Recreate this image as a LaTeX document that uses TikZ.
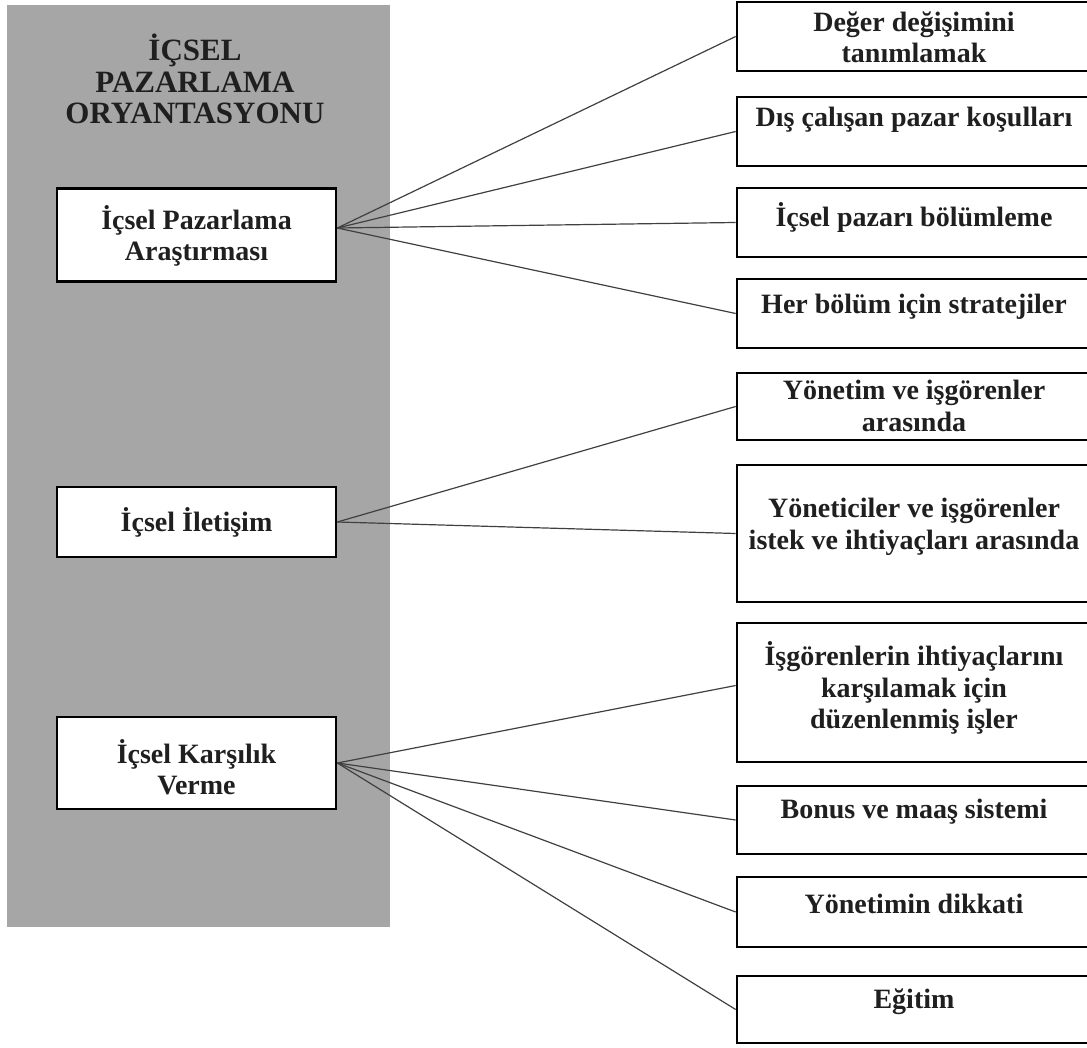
\documentclass[tikz,border=0pt]{standalone}
\usepackage{fontspec}
\setmainfont{Liberation Serif}
\definecolor{panelgray}{HTML}{A6A6A6}
\begin{document}
\begin{tikzpicture}[x=1pt,y=-1pt,
  box/.style={draw=black, line width=2.7pt, fill=white, inner sep=0pt},
  lbox/.style={box, minimum width=279pt},
  rbox/.style={box, minimum width=354pt},
  txt/.style={font=\fontsize{28}{31.5}\selectfont\bfseries, align=center, text=black!88, inner sep=0pt},
  ttl/.style={font=\fontsize{31}{31.5}\selectfont\bfseries, align=center, text=black!88, inner sep=0pt},
  link/.style={draw=black!75, line width=1.2pt}]
\useasboundingbox (0,0) rectangle (1087,1048);

% grey panel with the three dimensions
\fill[panelgray] (7,5) rectangle (390,927);
\node[ttl] (title) at (195,79) {İÇSEL\\PAZARLAMA\\ORYANTASYONU};

\node[lbox, minimum height=93pt] (l1) at (196.5,235) {};
\node[lbox, minimum height=70pt] (l2) at (196.5,522) {};
\node[lbox, minimum height=92pt] (l3) at (196.5,763) {};
\node[txt] (lt1) at (196.5,236) {İçsel Pazarlama\\Araştırması};
\node[txt] (lt2) at (196.5,522) {İçsel İletişim};
\node[txt] (lt3) at (196.5,767) {İçsel Karşılık\\Verme};

% right-hand items
\node[rbox, minimum height=69pt]  (r1)  at (914,36.5)  {};
\node[rbox, minimum height=69pt]  (r2)  at (914,131.5) {};
\node[rbox, minimum height=69pt]  (r3)  at (914,222.5) {};
\node[rbox, minimum height=69pt]  (r4)  at (914,313.5) {};
\node[rbox, minimum height=67pt]  (r5)  at (914,406.5) {};
\node[rbox, minimum height=137pt] (r6)  at (914,533.5) {};
\node[rbox, minimum height=139pt] (r7)  at (914,692.5) {};
\node[rbox, minimum height=68pt]  (r8)  at (914,820)   {};
\node[rbox, minimum height=70pt]  (r9)  at (914,912)   {};
\node[rbox, minimum height=67pt]  (r10) at (914,1009.5){};

\node[txt] (t1)  at (914,37.5) {Değer değişimini\\tanımlamak};
\node[txt] (t2)  at (914,120)  {Dış çalışan pazar koşulları};
\node[txt] (t3)  at (914,217)  {İçsel pazarı bölümleme};
\node[txt] (t4)  at (914,307)  {Her bölüm için stratejiler};
\node[txt] (t5)  at (914,406)  {Yönetim ve işgörenler\\arasında};
\node[txt] (t6)  at (914,527)  {Yöneticiler ve işgörenler\\istek ve ihtiyaçları arasında};
\node[txt] (t7)  at (914,688)  {İşgörenlerin ihtiyaçlarını\\karşılamak için\\düzenlenmiş işler};
\node[txt] (t8)  at (914,812)  {Bonus ve maaş sistemi};
\node[txt] (t9)  at (914,904)  {Yönetimin dikkati};
\node[txt] (t10) at (914,1002) {Eğitim};

% connectors
\coordinate (o1) at ([yshift=7pt]l1.east);
\foreach \r in {r1,r2,r3,r4} \draw[link] (o1) -- (\r.west);
\foreach \r in {r5,r6} \draw[link] (l2.east) -- (\r.west);
\draw[link] (l3.east) -- ([yshift=7pt]r7.west);
\foreach \r in {r8,r9,r10} \draw[link] (l3.east) -- (\r.west);
\end{tikzpicture}
\end{document}
